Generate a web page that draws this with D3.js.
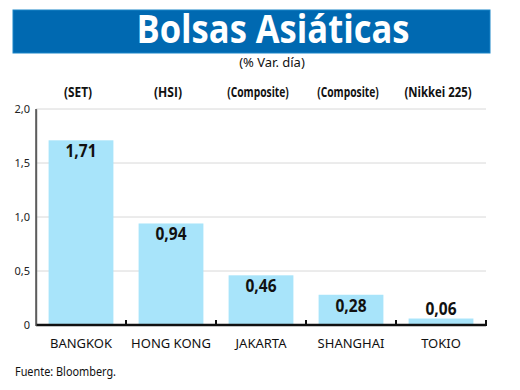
<!DOCTYPE html>
<html>
<head>
<meta charset="utf-8">
<script src="https://cdn.jsdelivr.net/npm/d3@7"></script>
<style>
  body { margin: 0; background: #fff; }
  svg { display: block; }
</style>
</head>
<body>
<div id="chart"></div>
<script>
// data
var cities = ["BANGKOK", "HONG KONG", "JAKARTA", "SHANGHAI", "TOKIO"];
var indices = ["(SET)", "(HSI)", "(Composite)", "(Composite)", "(Nikkei 225)"];
var values = [1.71, 0.94, 0.46, 0.28, 0.06];
var yTicks = [0, 0.5, 1.0, 1.5, 2.0];

var W = 520, H = 390;
var margin = {top: 109, right: 34, bottom: 65, left: 36},
    width = W - margin.left - margin.right,
    height = H - margin.top - margin.bottom;

var svg = d3.select("#chart")
  .append("svg")
    .attr("width", W)
    .attr("height", H);

// banner
svg.append("rect")
  .attr("x", 13).attr("y", 10)
  .attr("width", 477).attr("height", 43)
  .attr("fill", "#0069b1")
  .attr("stroke", "#1a86c8")
  .attr("stroke-width", 1);

svg.append("text")
  .attr("x", 273).attr("y", 43)
  .attr("text-anchor", "middle")
  .attr("textLength", 273)
  .attr("lengthAdjust", "spacingAndGlyphs")
  .style("font-family", "'Open Sans', 'DejaVu Sans', sans-serif")
  .style("font-weight", "bold")
  .style("font-size", "39px")
  .style("fill", "#fff")
  .text("Bolsas Asiáticas");

svg.append("text")
  .attr("x", 272).attr("y", 67)
  .attr("text-anchor", "middle")
  .style("font-family", "'Noto Sans', sans-serif")
  .style("font-size", "13px")
  .style("fill", "#111")
  .text("(% Var. día)");

var g = svg.append("g")
  .attr("transform", "translate(" + margin.left + "," + margin.top + ")");

var x = d3.scaleBand()
  .domain(cities)
  .range([0, width])
  .paddingInner(0.28)
  .paddingOuter(0.14);

var y = d3.scaleLinear()
  .domain([0, 2])
  .range([height, 0]);

// grid lines
g.selectAll(".grid")
  .data(yTicks.filter(function(d){ return d > 0; }))
  .enter()
  .append("line")
    .attr("x1", 0).attr("x2", width)
    .attr("y1", function(d){ return y(d); })
    .attr("y2", function(d){ return y(d); })
    .attr("stroke", "#d8d8d8")
    .attr("stroke-width", 1);

// y axis
var yAxis = g.append("g")
  .call(d3.axisLeft(y).tickValues(yTicks).tickSize(0).tickPadding(6)
    .tickFormat(function(d){ return d === 0 ? "0" : d3.format(".1f")(d).replace(".", ","); }));
yAxis.select(".domain").attr("stroke", "#777").attr("stroke-width", 1.5);
yAxis.selectAll("text")
  .style("font-family", "'Noto Sans', sans-serif")
  .style("font-size", "11px")
  .style("fill", "#222");

// bars
g.selectAll(".bar")
  .data(values)
  .enter()
  .append("rect")
    .attr("x", function(d, i){ return x(cities[i]); })
    .attr("y", function(d){ return y(d); })
    .attr("width", x.bandwidth())
    .attr("height", function(d){ return height - y(d); })
    .attr("fill", "#a8e4fa");

// value labels
g.selectAll(".val")
  .data(values)
  .enter()
  .append("text")
    .attr("x", function(d, i){ return x(cities[i]) + x.bandwidth() / 2; })
    .attr("y", function(d){ return (height - y(d)) > 22 ? y(d) + 17 : y(d) - 4; })
    .attr("text-anchor", "middle")
    .attr("textLength", 31)
    .attr("lengthAdjust", "spacingAndGlyphs")
    .style("font-family", "'Open Sans', sans-serif")
    .style("font-weight", "bold")
    .style("font-size", "18px")
    .style("fill", "#111")
    .text(function(d){ return d3.format(".2f")(d).replace(".", ","); });

// x axis
var step = width / cities.length;
var xAxis = g.append("g").attr("transform", "translate(0," + height + ")");
xAxis.append("line")
  .attr("x1", 0).attr("x2", width)
  .attr("stroke", "#111").attr("stroke-width", 2.5);
xAxis.selectAll(".tick")
  .data(d3.range(1, cities.length + 1))
  .enter()
  .append("line")
    .attr("x1", function(d){ return d * step; })
    .attr("x2", function(d){ return d * step; })
    .attr("y1", 1).attr("y2", -5)
    .attr("stroke", "#111").attr("stroke-width", 2);
xAxis.append("line")
  .attr("x1", 0).attr("x2", 0).attr("y1", 1).attr("y2", -height)
  .attr("stroke", "#555").attr("stroke-width", 1.5);

// category labels
g.selectAll(".cat")
  .data(cities)
  .enter()
  .append("text")
    .attr("x", function(d){ return x(d) + x.bandwidth() / 2; })
    .attr("y", height + 23)
    .attr("text-anchor", "middle")
    .style("font-family", "'Noto Sans', sans-serif")
    .style("font-size", "13px")
    .style("fill", "#111")
    .text(function(d){ return d; });

// index labels
g.selectAll(".idx")
  .data(indices)
  .enter()
  .append("text")
    .attr("x", function(d, i){ return x(cities[i]) + x.bandwidth() / 2 - 3; })
    .attr("y", -12)
    .attr("text-anchor", "middle")
    .attr("textLength", function(d){ return d.length * 5.6; })
    .attr("lengthAdjust", "spacingAndGlyphs")
    .style("font-family", "'Open Sans', sans-serif")
    .style("font-weight", "bold")
    .style("font-size", "13.5px")
    .style("fill", "#111")
    .text(function(d){ return d; });

// source
svg.append("text")
  .attr("x", 15).attr("y", 376)
  .attr("textLength", 101)
  .attr("lengthAdjust", "spacingAndGlyphs")
  .style("font-family", "'Noto Sans', sans-serif")
  .style("font-size", "12px")
  .style("fill", "#111")
  .text("Fuente: Bloomberg.");
</script>
</body>
</html>
